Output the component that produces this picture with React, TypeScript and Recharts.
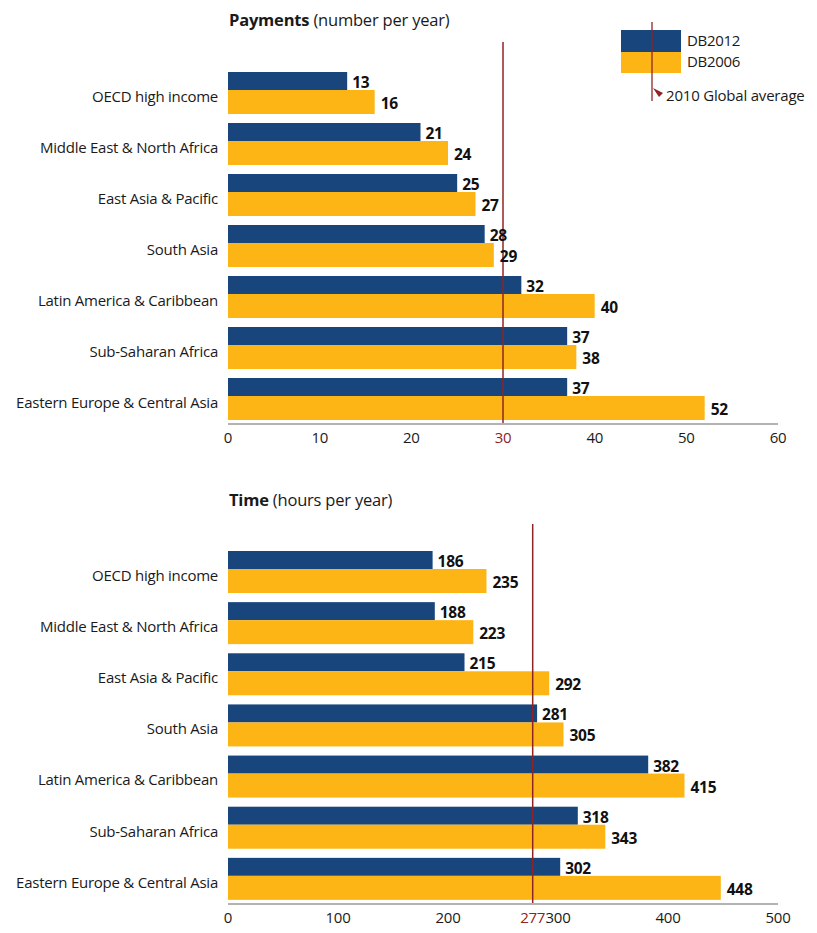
import {
  Bar,
  BarChart,
  LabelList,
  ReferenceLine,
  XAxis,
  YAxis,
} from "recharts";

const regions = [
  "OECD high income",
  "Middle East & North Africa",
  "East Asia & Pacific",
  "South Asia",
  "Latin America & Caribbean",
  "Sub-Saharan Africa",
  "Eastern Europe & Central Asia",
];

const payments2012 = [13, 21, 25, 28, 32, 37, 37];
const payments2006 = [16, 24, 27, 29, 40, 38, 52];
const time2012 = [186, 188, 215, 281, 382, 318, 302];
const time2006 = [235, 223, 292, 305, 415, 343, 448];

const paymentTicks = [0, 10, 20, 30, 40, 50, 60];
const timeTicks = [0, 100, 200, 277, 300, 400, 500];
const paymentAverage = 30;
const timeAverage = 277;

const BLUE = "#17457C";
const YELLOW = "#FDB515";
const RED = "#8E2424";
const FONT = "'Open Sans', sans-serif";

const paymentData = regions.map((name, i) => ({
  name,
  db2012: payments2012[i],
  db2006: payments2006[i],
}));
const timeData = regions.map((name, i) => ({
  name,
  db2012: time2012[i],
  db2006: time2006[i],
}));

// blue bars are a bit thinner than the yellow ones in the original
const BlueShape = (props: any) => (
  <rect x={props.x} y={props.y} width={props.width} height={props.height - 3} fill={BLUE} />
);
const YellowShape = (props: any) => (
  <rect x={props.x} y={props.y - 3} width={props.width} height={props.height + 3} fill={YELLOW} />
);

const CategoryTick = (props: any) => (
  <text
    x={props.x}
    y={props.y + 4}
    dy="0.355em"
    textAnchor="end"
    fontSize={15}
    letterSpacing={-0.25}
    fill="#1a1a1a"
    fontFamily={FONT}
  >
    {props.payload.value}
  </text>
);

const makeValueTick = (avg: number) => (props: any) => (
  <text
    x={props.x}
    y={props.y}
    dy="0.71em"
    textAnchor="middle"
    fontSize={15}
    letterSpacing={-0.3}
    fill={props.payload.value === avg ? RED : "#1a1a1a"}
    fontFamily={FONT}
  >
    {props.payload.value}
  </text>
);

const makeAvgLine = (extra: number) => (props: any) => {
  const top = Math.min(props.y1, props.y2);
  const bottom = Math.max(props.y1, props.y2);
  return <line x1={props.x1} x2={props.x2} y1={top - extra} y2={bottom} stroke={RED} strokeWidth={1.5} />;
};

const LegendBox = () => (
  <svg width={202} height={95} style={{ fontFamily: FONT, display: "block" }}>
    <rect x={6} y={15} width={60} height={22} fill={BLUE} />
    <rect x={6} y={37} width={60} height={21} fill={YELLOW} />
    <text x={72} y={26} dy="0.355em" fontSize={15} letterSpacing={-0.3} fill="#1a1a1a">DB2012</text>
    <text x={72} y={47} dy="0.355em" fontSize={15} letterSpacing={-0.3} fill="#1a1a1a">DB2006</text>
    <line x1={37} x2={37} y1={7} y2={86} stroke={RED} strokeWidth={1.5} opacity={0.85} />
    <polygon points="38,73 48,78 44,82" fill={RED} />
    <text x={51} y={81} dy="0.355em" fontSize={15} letterSpacing={-0.2} fill="#1a1a1a">2010 Global average</text>
  </svg>
);

const Title = ({ bold, rest, top }: { bold: string; rest: string; top: number }) => (
  <div
    style={{
      position: "absolute",
      left: 229,
      top,
      fontFamily: FONT,
      fontSize: 16.5,
      letterSpacing: -0.2,
      color: "#1a1a1a",
      whiteSpace: "nowrap",
    }}
  >
    <b>{bold}</b> {rest}
  </div>
);

const labelStyle = { fill: "#111", fontSize: 15.5, fontWeight: "bold", fontFamily: FONT, letterSpacing: -0.3 };

const App = () => {
  return (
    <div style={{ position: "absolute", left: 0, top: 0, width: 817, height: 933, background: "#fff" }}>
      <Title bold="Payments" rest="(number per year)" top={8} />
      <div style={{ position: "absolute", left: 0, top: 0 }}>
        <BarChart
          width={817}
          height={460}
          data={paymentData}
          layout="vertical"
          margin={{ top: 67, right: 39, left: 0, bottom: 6 }}
          barGap={0}
          barSize={21}
        >
          <XAxis
            type="number"
            domain={[0, 60]}
            ticks={paymentTicks}
            interval={0}
            height={30}
            tickLine={false}
            axisLine={{ stroke: "#b3b3b3", strokeWidth: 2 }}
            tick={makeValueTick(paymentAverage)}
          />
          <YAxis
            type="category"
            dataKey="name"
            width={228}
            axisLine={false}
            tickLine={false}
            tickMargin={4}
            interval={0}
            tick={<CategoryTick />}
          />
          <Bar dataKey="db2012" name="DB2012" fill={BLUE} shape={BlueShape} isAnimationActive={false}>
            <LabelList dataKey="db2012" position="right" offset={5} {...labelStyle} />
          </Bar>
          <Bar dataKey="db2006" name="DB2006" fill={YELLOW} shape={YellowShape} isAnimationActive={false}>
            <LabelList dataKey="db2006" position="right" offset={6} {...labelStyle} />
          </Bar>
          <ReferenceLine x={paymentAverage} stroke={RED} shape={makeAvgLine(25)} />
        </BarChart>
      </div>
      <div style={{ position: "absolute", left: 615, top: 15 }}>
        <LegendBox />
      </div>

      <Title bold="Time" rest="(hours per year)" top={488} />
      <div style={{ position: "absolute", left: 0, top: 480 }}>
        <BarChart
          width={817}
          height={453}
          data={timeData}
          layout="vertical"
          margin={{ top: 66, right: 39, left: 0, bottom: 4 }}
          barGap={0}
          barSize={21}
        >
          <XAxis
            type="number"
            domain={[0, 500]}
            ticks={timeTicks}
            interval={0}
            height={25}
            tickLine={false}
            axisLine={{ stroke: "#b3b3b3", strokeWidth: 2 }}
            tick={makeValueTick(timeAverage)}
          />
          <YAxis
            type="category"
            dataKey="name"
            width={228}
            axisLine={false}
            tickLine={false}
            tickMargin={4}
            interval={0}
            tick={<CategoryTick />}
          />
          <Bar dataKey="db2012" name="DB2012" fill={BLUE} shape={BlueShape} isAnimationActive={false}>
            <LabelList dataKey="db2012" position="right" offset={5} {...labelStyle} />
          </Bar>
          <Bar dataKey="db2006" name="DB2006" fill={YELLOW} shape={YellowShape} isAnimationActive={false}>
            <LabelList dataKey="db2006" position="right" offset={6} {...labelStyle} />
          </Bar>
          <ReferenceLine x={timeAverage} stroke={RED} shape={makeAvgLine(22)} />
        </BarChart>
      </div>
    </div>
  );
};

export default App;
